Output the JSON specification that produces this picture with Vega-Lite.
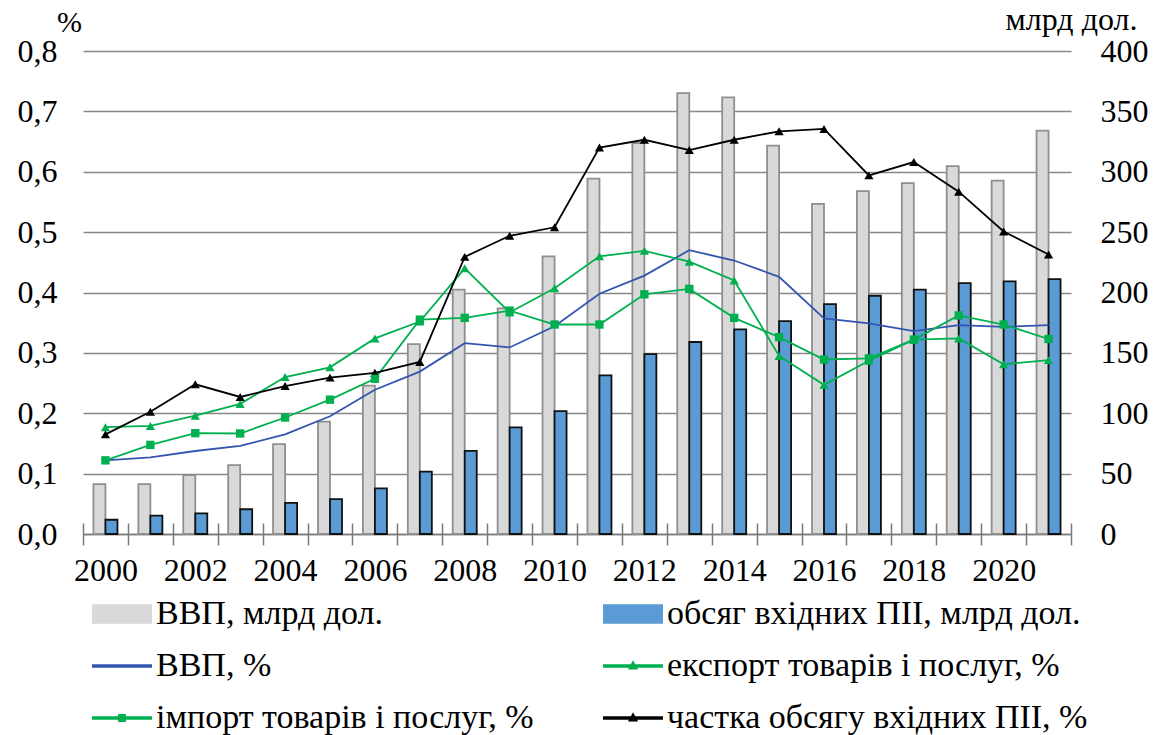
{
  "$schema": "https://vega.github.io/schema/vega-lite/v6.json",
  "width": 988,
  "height": 483,
  "autosize": "none",
  "padding": {"left": 83, "top": 51, "right": 86, "bottom": 201},
  "background": "white",
  "config": {
    "view": {"stroke": null},
    "font": "Liberation Serif",
    "axis": {"labelFont": "Liberation Serif", "titleFont": "Liberation Serif", "labelColor": "#000000", "titleColor": "#000000", "titleFontWeight": "normal"},
    "legend": {"labelFont": "Liberation Serif", "labelColor": "#000000"}
  },
  "datasets": {
    "bars": [
      {"year": 2000, "series": "ВВП, млрд дол.", "value": 41.3}, {"year": 2000, "series": "обсяг вхідних ПІІ, млрд дол.", "value": 11.8},
      {"year": 2001, "series": "ВВП, млрд дол.", "value": 41.3}, {"year": 2001, "series": "обсяг вхідних ПІІ, млрд дол.", "value": 15.3},
      {"year": 2002, "series": "ВВП, млрд дол.", "value": 48.7}, {"year": 2002, "series": "обсяг вхідних ПІІ, млрд дол.", "value": 17.1},
      {"year": 2003, "series": "ВВП, млрд дол.", "value": 57.0}, {"year": 2003, "series": "обсяг вхідних ПІІ, млрд дол.", "value": 20.5},
      {"year": 2004, "series": "ВВП, млрд дол.", "value": 74.4}, {"year": 2004, "series": "обсяг вхідних ПІІ, млрд дол.", "value": 25.7},
      {"year": 2005, "series": "ВВП, млрд дол.", "value": 93.0}, {"year": 2005, "series": "обсяг вхідних ПІІ, млрд дол.", "value": 28.9},
      {"year": 2006, "series": "ВВП, млрд дол.", "value": 122.8}, {"year": 2006, "series": "обсяг вхідних ПІІ, млрд дол.", "value": 37.8},
      {"year": 2007, "series": "ВВП, млрд дол.", "value": 157.3}, {"year": 2007, "series": "обсяг вхідних ПІІ, млрд дол.", "value": 51.7},
      {"year": 2008, "series": "ВВП, млрд дол.", "value": 202.4}, {"year": 2008, "series": "обсяг вхідних ПІІ, млрд дол.", "value": 68.8},
      {"year": 2009, "series": "ВВП, млрд дол.", "value": 186.8}, {"year": 2009, "series": "обсяг вхідних ПІІ, млрд дол.", "value": 88.3},
      {"year": 2010, "series": "ВВП, млрд дол.", "value": 230.0}, {"year": 2010, "series": "обсяг вхідних ПІІ, млрд дол.", "value": 101.8},
      {"year": 2011, "series": "ВВП, млрд дол.", "value": 294.3}, {"year": 2011, "series": "обсяг вхідних ПІІ, млрд дол.", "value": 131.4},
      {"year": 2012, "series": "ВВП, млрд дол.", "value": 323.8}, {"year": 2012, "series": "обсяг вхідних ПІІ, млрд дол.", "value": 148.9},
      {"year": 2013, "series": "ВВП, млрд дол.", "value": 365.1}, {"year": 2013, "series": "обсяг вхідних ПІІ, млрд дол.", "value": 159.0},
      {"year": 2014, "series": "ВВП, млрд дол.", "value": 361.6}, {"year": 2014, "series": "обсяг вхідних ПІІ, млрд дол.", "value": 169.5},
      {"year": 2015, "series": "ВВП, млрд дол.", "value": 321.7}, {"year": 2015, "series": "обсяг вхідних ПІІ, млрд дол.", "value": 176.3},
      {"year": 2016, "series": "ВВП, млрд дол.", "value": 273.4}, {"year": 2016, "series": "обсяг вхідних ПІІ, млрд дол.", "value": 190.4},
      {"year": 2017, "series": "ВВП, млрд дол.", "value": 284.0}, {"year": 2017, "series": "обсяг вхідних ПІІ, млрд дол.", "value": 197.3},
      {"year": 2018, "series": "ВВП, млрд дол.", "value": 290.5}, {"year": 2018, "series": "обсяг вхідних ПІІ, млрд дол.", "value": 202.3},
      {"year": 2019, "series": "ВВП, млрд дол.", "value": 304.7}, {"year": 2019, "series": "обсяг вхідних ПІІ, млрд дол.", "value": 207.7},
      {"year": 2020, "series": "ВВП, млрд дол.", "value": 292.6}, {"year": 2020, "series": "обсяг вхідних ПІІ, млрд дол.", "value": 209.2},
      {"year": 2021, "series": "ВВП, млрд дол.", "value": 334.0}, {"year": 2021, "series": "обсяг вхідних ПІІ, млрд дол.", "value": 211.0}
    ],
    "lines": [
      {"year": 2000, "series": "ВВП, %", "value": 0.122}, {"year": 2001, "series": "ВВП, %", "value": 0.127}, {"year": 2002, "series": "ВВП, %", "value": 0.1375}, {"year": 2003, "series": "ВВП, %", "value": 0.146}, {"year": 2004, "series": "ВВП, %", "value": 0.165}, {"year": 2005, "series": "ВВП, %", "value": 0.195}, {"year": 2006, "series": "ВВП, %", "value": 0.239}, {"year": 2007, "series": "ВВП, %", "value": 0.269}, {"year": 2008, "series": "ВВП, %", "value": 0.316}, {"year": 2009, "series": "ВВП, %", "value": 0.309}, {"year": 2010, "series": "ВВП, %", "value": 0.344}, {"year": 2011, "series": "ВВП, %", "value": 0.398}, {"year": 2012, "series": "ВВП, %", "value": 0.428}, {"year": 2013, "series": "ВВП, %", "value": 0.470}, {"year": 2014, "series": "ВВП, %", "value": 0.453}, {"year": 2015, "series": "ВВП, %", "value": 0.426}, {"year": 2016, "series": "ВВП, %", "value": 0.357}, {"year": 2017, "series": "ВВП, %", "value": 0.349}, {"year": 2018, "series": "ВВП, %", "value": 0.336}, {"year": 2019, "series": "ВВП, %", "value": 0.346}, {"year": 2020, "series": "ВВП, %", "value": 0.343}, {"year": 2021, "series": "ВВП, %", "value": 0.346},
      {"year": 2000, "series": "експорт товарів і послуг, %", "value": 0.177}, {"year": 2001, "series": "експорт товарів і послуг, %", "value": 0.179}, {"year": 2002, "series": "експорт товарів і послуг, %", "value": 0.196}, {"year": 2003, "series": "експорт товарів і послуг, %", "value": 0.2155}, {"year": 2004, "series": "експорт товарів і послуг, %", "value": 0.26}, {"year": 2005, "series": "експорт товарів і послуг, %", "value": 0.276}, {"year": 2006, "series": "експорт товарів і послуг, %", "value": 0.324}, {"year": 2007, "series": "експорт товарів і послуг, %", "value": 0.352}, {"year": 2008, "series": "експорт товарів і послуг, %", "value": 0.44}, {"year": 2009, "series": "експорт товарів і послуг, %", "value": 0.367}, {"year": 2010, "series": "експорт товарів і послуг, %", "value": 0.407}, {"year": 2011, "series": "експорт товарів і послуг, %", "value": 0.460}, {"year": 2012, "series": "експорт товарів і послуг, %", "value": 0.469}, {"year": 2013, "series": "експорт товарів і послуг, %", "value": 0.451}, {"year": 2014, "series": "експорт товарів і послуг, %", "value": 0.420}, {"year": 2015, "series": "експорт товарів і послуг, %", "value": 0.295}, {"year": 2016, "series": "експорт товарів і послуг, %", "value": 0.247}, {"year": 2017, "series": "експорт товарів і послуг, %", "value": 0.287}, {"year": 2018, "series": "експорт товарів і послуг, %", "value": 0.322}, {"year": 2019, "series": "експорт товарів і послуг, %", "value": 0.324}, {"year": 2020, "series": "експорт товарів і послуг, %", "value": 0.281}, {"year": 2021, "series": "експорт товарів і послуг, %", "value": 0.288},
      {"year": 2000, "series": "імпорт товарів і послуг, %", "value": 0.122}, {"year": 2001, "series": "імпорт товарів і послуг, %", "value": 0.1476}, {"year": 2002, "series": "імпорт товарів і послуг, %", "value": 0.167}, {"year": 2003, "series": "імпорт товарів і послуг, %", "value": 0.1665}, {"year": 2004, "series": "імпорт товарів і послуг, %", "value": 0.193}, {"year": 2005, "series": "імпорт товарів і послуг, %", "value": 0.2225}, {"year": 2006, "series": "імпорт товарів і послуг, %", "value": 0.257}, {"year": 2007, "series": "імпорт товарів і послуг, %", "value": 0.355}, {"year": 2008, "series": "імпорт товарів і послуг, %", "value": 0.358}, {"year": 2009, "series": "імпорт товарів і послуг, %", "value": 0.370}, {"year": 2010, "series": "імпорт товарів і послуг, %", "value": 0.347}, {"year": 2011, "series": "імпорт товарів і послуг, %", "value": 0.347}, {"year": 2012, "series": "імпорт товарів і послуг, %", "value": 0.397}, {"year": 2013, "series": "імпорт товарів і послуг, %", "value": 0.406}, {"year": 2014, "series": "імпорт товарів і послуг, %", "value": 0.358}, {"year": 2015, "series": "імпорт товарів і послуг, %", "value": 0.326}, {"year": 2016, "series": "імпорт товарів і послуг, %", "value": 0.289}, {"year": 2017, "series": "імпорт товарів і послуг, %", "value": 0.291}, {"year": 2018, "series": "імпорт товарів і послуг, %", "value": 0.322}, {"year": 2019, "series": "імпорт товарів і послуг, %", "value": 0.362}, {"year": 2020, "series": "імпорт товарів і послуг, %", "value": 0.347}, {"year": 2021, "series": "імпорт товарів і послуг, %", "value": 0.323},
      {"year": 2000, "series": "частка обсягу вхідних ПІІ, %", "value": 0.165}, {"year": 2001, "series": "частка обсягу вхідних ПІІ, %", "value": 0.2025}, {"year": 2002, "series": "частка обсягу вхідних ПІІ, %", "value": 0.248}, {"year": 2003, "series": "частка обсягу вхідних ПІІ, %", "value": 0.227}, {"year": 2004, "series": "частка обсягу вхідних ПІІ, %", "value": 0.245}, {"year": 2005, "series": "частка обсягу вхідних ПІІ, %", "value": 0.259}, {"year": 2006, "series": "частка обсягу вхідних ПІІ, %", "value": 0.267}, {"year": 2007, "series": "частка обсягу вхідних ПІІ, %", "value": 0.285}, {"year": 2008, "series": "частка обсягу вхідних ПІІ, %", "value": 0.459}, {"year": 2009, "series": "частка обсягу вхідних ПІІ, %", "value": 0.494}, {"year": 2010, "series": "частка обсягу вхідних ПІІ, %", "value": 0.508}, {"year": 2011, "series": "частка обсягу вхідних ПІІ, %", "value": 0.640}, {"year": 2012, "series": "частка обсягу вхідних ПІІ, %", "value": 0.653}, {"year": 2013, "series": "частка обсягу вхідних ПІІ, %", "value": 0.636}, {"year": 2014, "series": "частка обсягу вхідних ПІІ, %", "value": 0.653}, {"year": 2015, "series": "частка обсягу вхідних ПІІ, %", "value": 0.667}, {"year": 2016, "series": "частка обсягу вхідних ПІІ, %", "value": 0.671}, {"year": 2017, "series": "частка обсягу вхідних ПІІ, %", "value": 0.594}, {"year": 2018, "series": "частка обсягу вхідних ПІІ, %", "value": 0.616}, {"year": 2019, "series": "частка обсягу вхідних ПІІ, %", "value": 0.567}, {"year": 2020, "series": "частка обсягу вхідних ПІІ, %", "value": 0.501}, {"year": 2021, "series": "частка обсягу вхідних ПІІ, %", "value": 0.463}
    ]
  },
  "layer": [
    {
      "data": {"name": "bars"},
      "mark": {"type": "bar", "strokeWidth": 1.8},
      "encoding": {
        "x": {
          "field": "year", "type": "ordinal",
          "scale": {"paddingInner": 0, "paddingOuter": 0},
          "axis": {
            "orient": "bottom", "title": null, "labelAngle": 0,
            "labelExpr": "toNumber(datum.value) % 2 === 0 ? datum.label : ''",
            "labelFontSize": 32, "labelPadding": 10,
            "tickBand": "extent", "tickSize": 11, "tickColor": "#7a7a7a", "tickWidth": 1.5,
            "domainColor": "#7a7a7a", "domainWidth": 1.5, "grid": false
          }
        },
        "xOffset": {"field": "series", "type": "nominal", "scale": {"domain": ["ВВП, млрд дол.", "обсяг вхідних ПІІ, млрд дол."], "paddingInner": 0, "paddingOuter": 0.87}},
        "y": {
          "field": "value", "type": "quantitative",
          "scale": {"domain": [0, 400]},
          "axis": {
            "orient": "right", "title": "млрд дол.", "titleAngle": 0, "titleX": 0, "titleY": -32,
            "titleAlign": "center", "titleBaseline": "middle", "titleFontSize": 32,
            "values": [0, 50, 100, 150, 200, 250, 300, 350, 400],
            "labelFontSize": 32, "labelPadding": 29, "ticks": false, "domain": false, "grid": false
          }
        },
        "color": {
          "field": "series", "type": "nominal",
          "scale": {
            "domain": ["ВВП, млрд дол.", "ВВП, %", "імпорт товарів і послуг, %", "обсяг вхідних ПІІ, млрд дол.", "експорт товарів і послуг, %", "частка обсягу вхідних ПІІ, %"],
            "range": ["#d9d9d9", "#3355b0", "#00b050", "#5b9bd5", "#00b050", "#000000"]
          },
          "legend": {
            "title": null, "orient": "none", "legendX": 9, "legendY": 533,
            "columns": 2, "columnPadding": 66, "rowPadding": 5, "padding": 0,
            "symbolSize": 3364, "labelFontSize": 34, "labelLimit": 700, "labelOffset": 4,
            "encode": {
              "symbols": {
                "update": {
                  "shape": {"signal": "datum.value === 'ВВП, млрд дол.' || datum.value === 'обсяг вхідних ПІІ, млрд дол.' ? 'M-1,-0.3H1V0.3H-1Z' : datum.value === 'ВВП, %' ? 'M-1,-0.03H1V0.03H-1Z' : datum.value === 'імпорт товарів і послуг, %' ? 'M-1,-0.03H1V0.03H-1Z M-0.1,-0.1H0.1V0.1H-0.1Z' : 'M-1,-0.03H1V0.03H-1Z M-0.12,0.09L0,-0.13L0.12,0.09Z'"},
                  "fill": {"signal": "scale('color', datum.value)"},
                  "stroke": {"signal": "datum.value === 'ВВП, млрд дол.' ? '#8f8f8f' : datum.value === 'обсяг вхідних ПІІ, млрд дол.' ? '#111111' : 'transparent'"},
                  "strokeWidth": {"value": 2},
                  "opacity": {"value": 1},
                  "fillOpacity": {"value": 1}
                }
              }
            }
          }
        },
        "stroke": {
          "field": "series", "type": "nominal",
          "scale": {"domain": ["ВВП, млрд дол.", "обсяг вхідних ПІІ, млрд дол."], "range": ["#8f8f8f", "#111111"]},
          "legend": null
        }
      }
    },
    {
      "data": {"name": "lines"},
      "encoding": {
        "x": {
          "field": "year", "type": "ordinal",
          "axis": {"orient": "bottom", "title": null, "labels": false, "domain": false, "tickBand": "extent", "tickSize": -11, "tickColor": "#7a7a7a", "tickWidth": 1.5, "grid": false}
        },
        "y": {
          "field": "value", "type": "quantitative",
          "scale": {"domain": [0, 0.8]},
          "axis": {
            "orient": "left", "title": "%", "titleAngle": 0, "titleX": -14, "titleY": -29,
            "titleAlign": "center", "titleBaseline": "middle", "titleFontSize": 30,
            "values": [0, 0.1, 0.2, 0.3, 0.4, 0.5, 0.6, 0.7, 0.8],
            "labelExpr": "replace(format(datum.value, '.1f'), '.', ',')",
            "labelFontSize": 32, "labelPadding": 26, "ticks": false, "domain": false,
            "grid": true, "gridColor": "#878787", "gridWidth": 1.5
          }
        },
        "color": {"field": "series", "type": "nominal"}
      },
      "layer": [
        {"mark": {"type": "line", "strokeWidth": 1.8}},
        {
          "transform": [{"filter": "datum.series === 'експорт товарів і послуг, %' || datum.series === 'частка обсягу вхідних ПІІ, %'"}],
          "mark": {"type": "point", "shape": "triangle-up", "filled": true, "size": 85, "opacity": 1}
        },
        {
          "transform": [{"filter": "datum.series === 'імпорт товарів і послуг, %'"}],
          "mark": {"type": "point", "shape": "square", "filled": true, "size": 70, "opacity": 1}
        }
      ]
    }
  ],
  "resolve": {"scale": {"y": "independent"}, "axis": {"x": "independent"}}
}
